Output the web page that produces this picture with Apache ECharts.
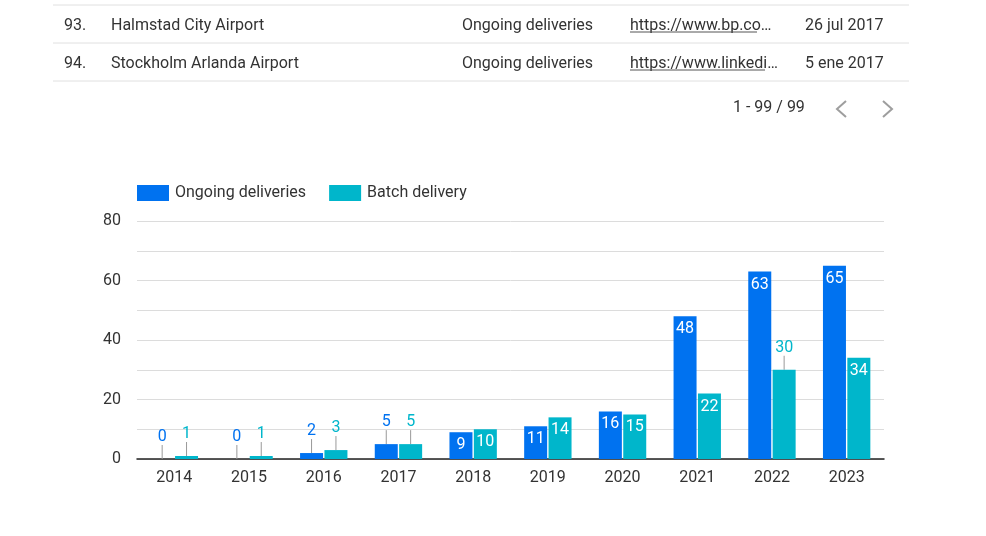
<!DOCTYPE html>
<html lang="en">

<head>
  <meta charset="UTF-8">
  <title>deliveries</title>
  <style>
    html, body { margin: 0; padding: 0; background: #fff; }
    #main { width: 986px; height: 536px; }
  </style>
</head>

<body>
  <div id="main"></div>
  <script src="https://cdn.jsdelivr.net/npm/echarts@6/dist/echarts.min.js"></script>
  <script>
    var years = ['2014', '2015', '2016', '2017', '2018', '2019', '2020', '2021', '2022', '2023'];
    var ongoing = [0, 0, 2, 5, 9, 11, 16, 48, 63, 65];
    var batch = [1, 1, 3, 5, 10, 14, 15, 22, 30, 34];
    // years whose label sits above the bar with a leader line
    var ongoingOutside = ['2014', '2015', '2016', '2017'];
    var batchOutside = ['2014', '2015', '2016', '2017', '2022'];

    var tableRows = [
      ['93.', 'Halmstad City Airport', 'Ongoing deliveries', 'https://www.bp.co…', '26 jul 2017'],
      ['94.', 'Stockholm Arlanda Airport', 'Ongoing deliveries', 'https://www.linkedi…', '5 ene 2017']
    ];
    var pageText = '1 - 99 / 99';

    var font = 'Roboto';
    var textColor = '#333333';
    var blue = '#0072f0';
    var teal = '#00b6cb';

    function barData(values, outside, color) {
      return values.map(function(v, i) {
        var isOut = outside.indexOf(years[i]) >= 0;
        return {
          value: v,
          label: isOut
            ? { position: 'top', distance: 0, color: color }
            : { position: 'insideTop', distance: 5, color: '#fff' },
          labelLine: { show: isOut }
        };
      });
    }

    function barSeries(name, values, outside, color) {
      return {
        name: name,
        type: 'bar',
        barWidth: 23,
        barGap: '6%',
        itemStyle: { color: color },
        label: { show: true, fontFamily: font, fontSize: 16 },
        labelLine: { lineStyle: { color: '#999', width: 1 } },
        labelLayout: function(params) {
          return outside.indexOf(years[params.dataIndex]) >= 0 ? { dy: -14 } : {};
        },
        data: barData(values, outside, color)
      };
    }

    // table above the chart
    var graphics = [];
    [5, 43, 81].forEach(function(y) {
      graphics.push({
        type: 'line', silent: true,
        shape: { x1: 53, y1: y, x2: 909, y2: y },
        style: { stroke: '#e0e0e0', lineWidth: 1 }
      });
    });
    var colX = [64, 111, 462, 630, 805];
    tableRows.forEach(function(row, r) {
      var y = 26 + r * 38;
      row.forEach(function(cell, c) {
        graphics.push({
          type: 'text', silent: true, x: colX[c], y: y,
          style: { text: cell, font: '16px ' + font, fill: textColor, textVerticalAlign: 'middle' }
        });
      });
      graphics.push({
        type: 'line', silent: true,
        shape: { x1: 630, y1: y + 6, x2: r == 0 ? 757 : 765, y2: y + 6 },
        style: { stroke: '#555', lineWidth: 1 }
      });
    });
    graphics.push({
      type: 'text', silent: true, x: 733, y: 108,
      style: { text: pageText, font: '16px ' + font, fill: textColor, textVerticalAlign: 'middle' }
    });
    graphics.push({
      type: 'polyline', silent: true,
      shape: { points: [[846, 101], [837, 109], [846, 117]] },
      style: { stroke: '#9e9e9e', lineWidth: 2, fill: null }
    });
    graphics.push({
      type: 'polyline', silent: true,
      shape: { points: [[883, 101], [892, 109], [883, 117]] },
      style: { stroke: '#9e9e9e', lineWidth: 2, fill: null }
    });

    var myChart = echarts.init(document.getElementById('main'));
    myChart.setOption({
      animation: false,
      backgroundColor: '#fff',
      textStyle: { fontFamily: font },
      graphic: graphics,
      legend: {
        left: 132,
        top: 180,
        itemWidth: 32,
        itemHeight: 16,
        itemGap: 23,
        icon: 'rect',
        textStyle: { fontFamily: font, fontSize: 16, color: textColor, padding: [0, 0, 0, 1] },
        data: ['Ongoing deliveries', 'Batch delivery']
      },
      grid: { left: 137, right: 102, top: 221, bottom: 77 },
      xAxis: {
        type: 'category',
        data: years,
        axisTick: { show: false },
        axisLine: { lineStyle: { color: '#222', width: 1.5 } },
        axisLabel: { fontFamily: font, fontSize: 16, color: textColor, margin: 11 }
      },
      yAxis: {
        type: 'value',
        min: 0,
        max: 80,
        interval: 10,
        axisLine: { show: false },
        axisTick: { show: false },
        splitLine: { lineStyle: { color: '#dcdcdc', width: 1 } },
        axisLabel: {
          fontFamily: font, fontSize: 16, color: textColor, margin: 16, padding: [4, 0, 0, 0],
          formatter: function(v) { return v % 20 == 0 ? String(v) : ''; }
        }
      },
      series: [
        barSeries('Ongoing deliveries', ongoing, ongoingOutside, blue),
        barSeries('Batch delivery', batch, batchOutside, teal)
      ]
    });
  </script>
</body>

</html>
